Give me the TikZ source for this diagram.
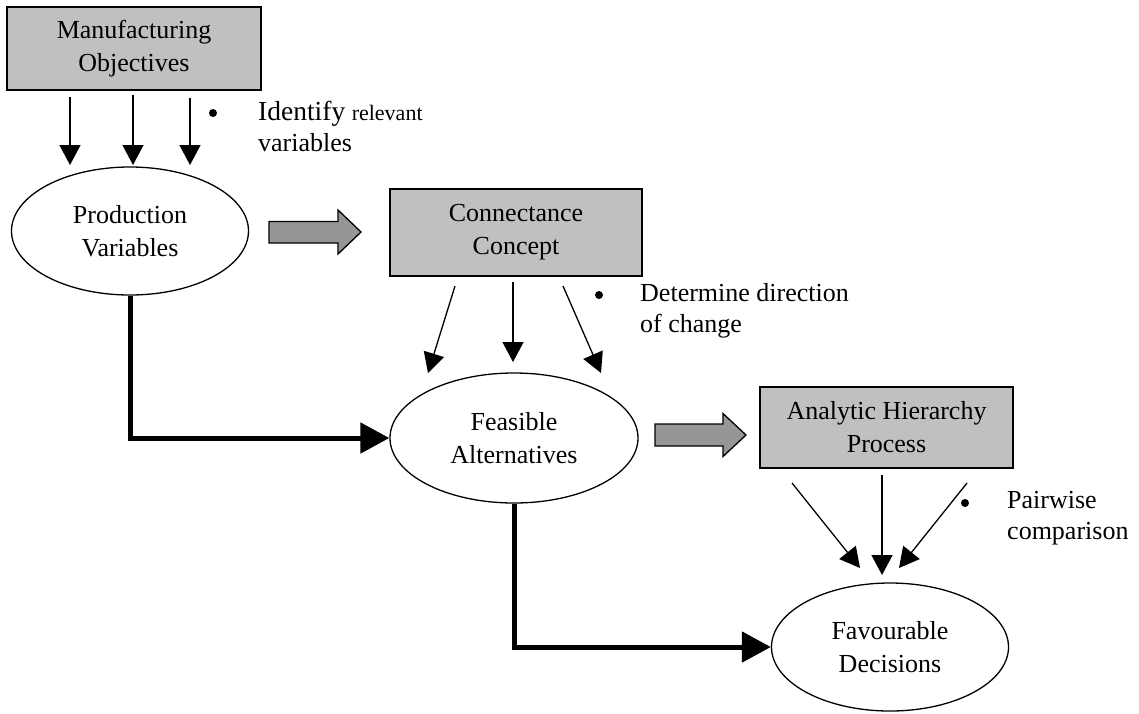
\documentclass[tikz,border=0pt]{standalone}
\usepackage{fontspec}
\setmainfont{Liberation Serif}
\usetikzlibrary{arrows.meta,shapes.geometric}
\definecolor{boxgray}{RGB}{192,192,192}
\definecolor{arrowgray}{RGB}{150,150,150}
\tikzset{
  boxnode/.style={draw=black, line width=1.3pt, fill=boxgray, rectangle, inner sep=0pt,
    align=center, font=\fontsize{26}{33}\selectfont},
  ovalnode/.style={draw=black, line width=1.3pt, ellipse, inner sep=0pt,
    align=center, font=\fontsize{26}{33}\selectfont},
  thinarrow/.style={line width=1.3pt, -{Triangle[length=20pt,width=21pt]}},
  thickarrow/.style={line width=5pt, -{Triangle[length=29pt,width=30pt]}},
  blockarrow/.style={draw=black, line width=1.3pt, fill=arrowgray, line join=miter},
  bulletdot/.style={fill=black, circle, inner sep=0pt, minimum size=8pt},
  notetext/.style={align=left, inner sep=0pt, font=\fontsize{26}{31}\selectfont}
}
\begin{document}
\begin{tikzpicture}[x=1pt,y=-1pt]
\useasboundingbox (0,0) rectangle (1139,713);
% main nodes
\node[boxnode, minimum width=254pt, minimum height=83pt] (mo) at (134,48.5) {Manufacturing\\Objectives};
\node[ovalnode, minimum width=237pt, minimum height=128pt] (pv) at (130,231) {Production\\Variables};
\node[boxnode, minimum width=252pt, minimum height=87pt] (cc) at (516,232.5) {Connectance\\Concept};
\node[ovalnode, minimum width=248pt, minimum height=130pt] (fa) at (514,438) {Feasible\\Alternatives};
\node[boxnode, minimum width=253pt, minimum height=81pt] (ahp) at (886.5,427.5) {Analytic Hierarchy\\Process};
\node[ovalnode, minimum width=237pt, minimum height=128pt] (fd) at (890,647) {Favourable\\Decisions};

% thin arrow end points
\coordinate (m1s) at (70,97);  \coordinate (m1e) at (70,165);
\coordinate (m2s) at (133,95); \coordinate (m2e) at (133,165);
\coordinate (m3s) at (190,98); \coordinate (m3e) at (190,165);
\coordinate (c1s) at (455,286); \coordinate (c1e) at (428,373);
\coordinate (c2s) at (513,282); \coordinate (c2e) at (513,362);
\coordinate (c3s) at (563,286); \coordinate (c3e) at (601,373);
\coordinate (a1s) at (792,483); \coordinate (a1e) at (860,568);
\coordinate (a2s) at (882,475); \coordinate (a2e) at (882,575);
\coordinate (a3s) at (967,483); \coordinate (a3e) at (899,568);

\draw[thinarrow] (m1s) -- (m1e);
\draw[thinarrow] (m2s) -- (m2e);
\draw[thinarrow] (m3s) -- (m3e);
\draw[thinarrow] (c1s) -- (c1e);
\draw[thinarrow] (c2s) -- (c2e);
\draw[thinarrow] (c3s) -- (c3e);
\draw[thinarrow] (a1s) -- (a1e);
\draw[thinarrow] (a2s) -- (a2e);
\draw[thinarrow] (a3s) -- (a3e);

% thick elbow connectors
\draw[thickarrow] (pv.south) |- (fa.west);
\draw[thickarrow] (fa.south) |- (fd.west);

% block arrows
\draw[blockarrow] (269,221.5) -- (338,221.5) -- (338,210) -- (361,232) -- (338,254) -- (338,243) -- (269,243) -- cycle;
\draw[blockarrow] (655,424) -- (723,424) -- (723,413.5) -- (746,435) -- (723,456.5) -- (723,446) -- (655,446) -- cycle;

% bullet notes
\node[bulletdot] (b1) at (213,113) {};
\node[notetext, anchor=west] (n1) at (258,126) {{\fontsize{27.5}{31}\selectfont Identify} {\fontsize{22}{31}\selectfont relevant}\\variables};
\node[bulletdot] (b2) at (599,295) {};
\node[notetext, anchor=west] (n2) at (640,311) {Determine direction\\of change};
\node[bulletdot] (b3) at (965,503) {};
\node[notetext, anchor=west] (n3) at (1007,518) {Pairwise\\comparison};
\end{tikzpicture}
\end{document}
